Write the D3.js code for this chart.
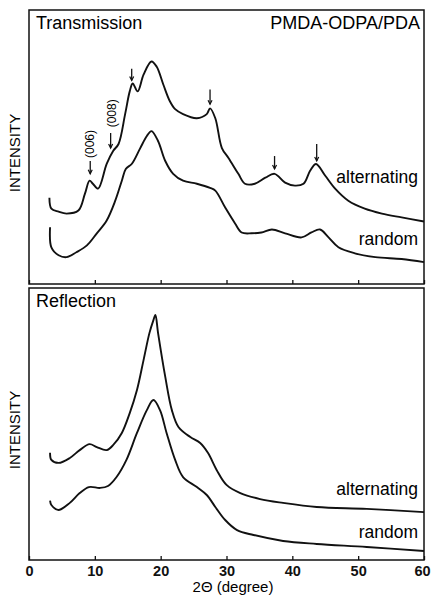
<!DOCTYPE html>
<html>
<head>
<meta charset="utf-8">
<script src="https://cdn.jsdelivr.net/npm/d3@7"></script>
<style>
  body { margin: 0; background: #fff; }
  svg { display: block; font-family: "Liberation Sans", Arial, sans-serif; }
</style>
</head>
<body>
<div id="chart"></div>
<script>
// donnees (2theta en degres, intensite en unites arbitraires 0-100)
const transAlternating = [
  [3.1, 31.5], [3.4, 27.5], [4.5, 26.4], [5.7, 25.7], [7.5, 26.8], [8.5, 33.0],
  [9.2, 37.7], [9.7, 36.6], [10.5, 34.8], [11.8, 43.8], [12.8, 48.6], [13.6, 51.1],
  [14.6, 62.0], [15.3, 70.3], [15.75, 73.2], [16.5, 70.3], [17.4, 76.4], [18.6, 81.2],
  [19.4, 79.3], [20.4, 72.8], [21.4, 66.7], [22.2, 63.8], [23.4, 62.0], [25.5, 60.5],
  [27.0, 62.0], [27.5, 64.1], [28.3, 60.5], [29.3, 49.6], [30.3, 46.0], [31.8, 40.2],
  [32.8, 36.6], [34.3, 36.6], [35.9, 38.8], [37.3, 40.2], [38.9, 37.0], [40.4, 35.9],
  [41.7, 36.6], [42.7, 41.3], [43.6, 43.8], [45.0, 39.5], [46.5, 34.8], [48.5, 30.4],
  [51.0, 27.5], [53.6, 25.7], [56.6, 24.3], [60, 22.8]
];
const transRandom = [
  [3.2, 20.7], [3.4, 13.4], [4.5, 10.5], [5.7, 9.8], [7.2, 11.6], [8.8, 14.1],
  [10.3, 18.5], [11.8, 23.2], [13.1, 30.4], [14.1, 37.7], [14.7, 42.0], [15.6, 43.8],
  [16.9, 49.6], [17.9, 54.0], [18.6, 55.8], [19.6, 52.2], [20.7, 44.9], [21.9, 40.2],
  [23.4, 37.7], [25.5, 36.6], [27.5, 35.1], [28.3, 34.1], [29.8, 27.9], [31.3, 22.1],
  [32.3, 18.8], [33.8, 18.5], [35.3, 18.8], [36.9, 19.9], [38.9, 18.5], [41.4, 17.0],
  [42.9, 18.8], [44.2, 19.9], [45.5, 17.0], [47.0, 13.4], [49.5, 11.2], [52.6, 9.8],
  [56.6, 9.1], [60, 8.0]
];
const reflAlternating = [
  [3.2, 39.4], [3.4, 36.8], [4.5, 35.7], [6.2, 37.5], [7.7, 40.4], [9.2, 42.6],
  [10.3, 41.5], [11.8, 40.4], [12.8, 42.3], [14.1, 46.7], [15.3, 54.0], [16.4, 62.5],
  [17.4, 73.5], [18.3, 83.5], [18.9, 88.2], [19.2, 90.1], [19.6, 83.5], [20.7, 67.3],
  [21.7, 55.1], [22.7, 48.9], [24.5, 45.2], [26.0, 43.0], [27.2, 39.3], [28.5, 33.1],
  [30.0, 27.6], [32.1, 24.6], [35.1, 22.4], [38.6, 21.0], [43.7, 19.5], [51.3, 18.8],
  [60, 17.6]
];
const reflRandom = [
  [3.2, 21.8], [3.4, 20.2], [4.5, 18.4], [6.2, 21.0], [7.7, 24.6], [9.1, 26.8],
  [10.8, 26.5], [12.0, 27.2], [13.3, 30.5], [14.8, 36.8], [16.4, 46.7], [17.9, 55.1],
  [18.9, 58.8], [19.9, 55.1], [20.9, 46.7], [22.2, 36.8], [23.4, 30.5], [25.5, 26.8],
  [27.0, 23.9], [28.3, 19.5], [29.8, 14.7], [31.6, 11.0], [34.1, 9.2], [38.6, 7.0],
  [43.7, 5.9], [51.3, 4.8], [60, 3.3]
];

// fleches sur la courbe "alternating" (transmission) : [2theta, haut, bas]
const arrows = [[9.3, 44.9, 40.2], [12.4, 55.1, 49.6], [15.6, 78.6, 74.3],
                [27.5, 71.0, 65.6], [37.3, 46.7, 42.0], [43.7, 51.1, 44.9]];
// etiquettes des reflexions : [texte, 2theta, intensite]
const peakLabels = [["(006)", 9.3, 51.1], ["(008)", 12.6, 62.3]];

const xTicks = [0, 10, 20, 30, 40, 50, 60];

const width = 431, height = 597;
const left = 29, right = 424;
const top1 = 10, bottom1 = 284, top2 = 288, bottom2 = 560;

const svg = d3.select("#chart").append("svg")
  .attr("width", width).attr("height", height);

const x = d3.scaleLinear().domain([0, 60]).range([left, right]);
const y1 = d3.scaleLinear().domain([0, 100]).range([bottom1, top1]);
const y2 = d3.scaleLinear().domain([0, 100]).range([bottom2, top2]);

function panel(y, top, bottom, series, title, showLabels) {
  const g = svg.append("g");

  series.forEach(s => {
    g.append("path")
      .datum(s.data)
      .attr("fill", "none")
      .attr("stroke", "#111")
      .attr("stroke-width", 1.9)
      .attr("stroke-linejoin", "round")
      .attr("d", d3.line().x(d => x(d[0])).y(d => y(d[1])).curve(d3.curveCatmullRom));

    g.append("text")
      .attr("x", 418).attr("y", y(s.label[1]))
      .attr("text-anchor", "end")
      .style("font-size", "17.5px")
      .text(s.label[0]);
  });

  // axe du bas avec graduations vers l'interieur
  const axis = g.append("g")
    .attr("transform", `translate(0,${bottom})`)
    .call(d3.axisBottom(x).tickValues(xTicks)
      .tickSizeInner(-4).tickSizeOuter(0).tickPadding(6)
      .tickFormat(showLabels ? d3.format("d") : () => ""));
  axis.select(".domain").remove();
  axis.selectAll("line").attr("stroke", "#111").attr("stroke-width", 1.3);
  axis.selectAll("text")
    .style("font-family", "'Liberation Sans', Arial, sans-serif")
    .style("font-size", "14.5px").style("font-weight", "bold").attr("fill", "#111")
    .attr("dx", d => d === 60 ? -2 : 0);

  g.append("rect")
    .attr("x", left).attr("y", top)
    .attr("width", right - left).attr("height", bottom - top)
    .attr("fill", "none").attr("stroke", "#111").attr("stroke-width", 1.5);

  g.append("text")
    .attr("x", 36).attr("y", top + 19)
    .style("font-size", "18px")
    .text(title);

  g.append("text")
    .attr("transform", `translate(20,${(top + bottom) / 2 + 6}) rotate(-90)`)
    .attr("text-anchor", "middle")
    .style("font-size", "15px")
    .text("INTENSITY");

  return g;
}

const g1 = panel(y1, top1, bottom1, [
  { data: transAlternating, label: ["alternating", 37] },
  { data: transRandom, label: ["random", 14.2] }
], "Transmission", false);

g1.append("text")
  .attr("x", 420).attr("y", top1 + 19)
  .attr("text-anchor", "end")
  .style("font-size", "18px")
  .text("PMDA-ODPA/PDA");

g1.selectAll(".arrow")
  .data(arrows)
  .join("g")
  .attr("class", "arrow")
  .each(function (d) {
    const a = d3.select(this);
    a.append("line")
      .attr("x1", x(d[0])).attr("x2", x(d[0]))
      .attr("y1", y1(d[1])).attr("y2", y1(d[2]))
      .attr("stroke", "#111").attr("stroke-width", 1.3);
    a.append("path")
      .attr("d", `M${x(d[0]) - 2},${y1(d[2]) - 4}L${x(d[0])},${y1(d[2])}L${x(d[0]) + 2},${y1(d[2]) - 4}`)
      .attr("fill", "none").attr("stroke", "#111").attr("stroke-width", 1.2);
  });

g1.selectAll(".peak")
  .data(peakLabels)
  .join("text")
  .attr("class", "peak")
  .attr("transform", d => `translate(${x(d[1]) + 4},${y1(d[2])}) rotate(-90)`)
  .attr("text-anchor", "middle")
  .style("font-size", "12px")
  .text(d => d[0]);

panel(y2, top2, bottom2, [
  { data: reflAlternating, label: ["alternating", 24] },
  { data: reflRandom, label: ["random", 8] }
], "Reflection", true);

svg.append("text")
  .attr("x", 233).attr("y", 592)
  .attr("text-anchor", "middle")
  .style("font-size", "15px")
  .text("2Θ (degree)");
</script>
</body>
</html>
